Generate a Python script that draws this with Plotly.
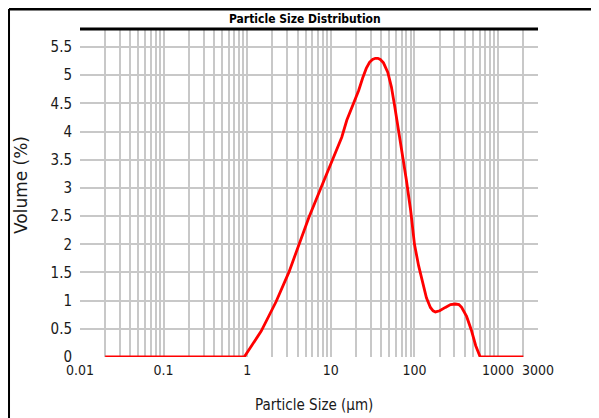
import plotly.graph_objects as go

# Particle size (µm) and volume (%)
sizes = [0.02, 0.92, 1.47, 2.21, 3.16, 4.16, 5.47, 7.6, 10.3, 13.5, 15.5, 18.5, 21.5, 24, 26.5, 29,
         31.5, 34, 36.5, 39, 42.6, 48, 53, 58, 64.6, 72, 80, 90, 100, 112, 125, 139, 155,
         167, 178, 200, 234, 270, 309, 340, 366, 420, 478, 540, 611, 2000]
volume = [0, 0, 0.46, 0.98, 1.51, 2.0, 2.48, 3.0, 3.49, 3.9, 4.2, 4.48, 4.73, 4.95, 5.12, 5.23,
          5.28, 5.3, 5.3, 5.28, 5.22, 5.05, 4.79, 4.45, 4.02, 3.55, 3.14, 2.6, 2.0, 1.62, 1.3, 1.05, 0.88,
          0.82, 0.8, 0.82, 0.88, 0.93, 0.94, 0.93, 0.88, 0.72, 0.48, 0.2, 0, 0]

x_tick_vals = [0.01, 0.1, 1, 10, 100, 1000, 3000]
x_tick_text = ["0.01", "0.1", "1", "10", "100", "1000", "3000"]
x_minor_vals = [m * d for d in [0.01, 0.1, 1, 10, 100] for m in range(2, 10)] + [2000]
y_tick_vals = [0, 0.5, 1, 1.5, 2, 2.5, 3, 3.5, 4, 4.5, 5, 5.5]
y_tick_text = ["0", "0.5", "1", "1.5", "2", "2.5", "3", "3.5", "4", "4.5", "5", "5.5"]

NARROW = "DejaVu Sans Condensed, Liberation Sans Narrow, Arial Narrow, sans-serif"
GRID = "#c8c8c8"

fig = go.Figure()
fig.add_trace(go.Scatter(x=sizes, y=volume, mode="lines", cliponaxis=False,
                         line=dict(color="#ff0000", width=2.8),
                         hoverinfo="skip"))

fig.update_layout(
    width=591, height=410,
    margin=dict(l=72, r=61, t=21, b=61),
    paper_bgcolor="white", plot_bgcolor="white",
    showlegend=False,
    xaxis=dict(type="log", range=[-2, 3.4771], tickmode="array",
               tickvals=x_tick_vals, ticktext=x_tick_text,
               showgrid=True, gridcolor=GRID, gridwidth=1.6,
               minor=dict(tickmode="array", tickvals=x_minor_vals, showgrid=True,
                          gridcolor=GRID, gridwidth=1.6, ticks=""),
               zeroline=False, showline=False, ticks="", ticklen=0, ticklabelstandoff=3,
               tickfont=dict(family=NARROW, size=14, color="#1a1a1a")),
    yaxis=dict(range=[0, 5.82], tickmode="array", tickvals=y_tick_vals, ticktext=y_tick_text,
               showgrid=True, gridcolor=GRID, gridwidth=1.6,
               zeroline=False, showline=False, ticks="", ticklabelstandoff=7,
               tickfont=dict(family=NARROW, size=15, color="#1a1a1a")),
    shapes=[
        dict(type="line", xref="paper", yref="paper", x0=0, x1=1, y0=1, y1=1,
             line=dict(color="black", width=3)),
        dict(type="line", xref="paper", yref="paper", x0=-0.155, x1=1.2, y0=1.061, y1=1.061,
             line=dict(color="black", width=3)),
        dict(type="line", xref="paper", yref="paper", x0=-0.155, x1=-0.155, y0=1.061, y1=-0.2,
             line=dict(color="black", width=2)),
    ],
    annotations=[
        dict(text="<b>Particle Size Distribution</b>", xref="paper", yref="paper",
             x=0.491, y=1.03, xanchor="center", yanchor="middle", showarrow=False,
             font=dict(family=NARROW, size=12, color="black")),
        dict(text="Particle Size (µm)", xref="paper", yref="paper",
             x=0.511, y=-0.146, xanchor="center", yanchor="middle", showarrow=False,
             font=dict(family=NARROW, size=15, color="#1a1a1a")),
        dict(text="Volume (%)", xref="paper", yref="paper", textangle=-90,
             x=-0.129, y=0.524, xanchor="center", yanchor="middle", showarrow=False,
             font=dict(family="DejaVu Sans", size=17, color="#1a1a1a")),
    ],
)

fig.write_html("out.html")
